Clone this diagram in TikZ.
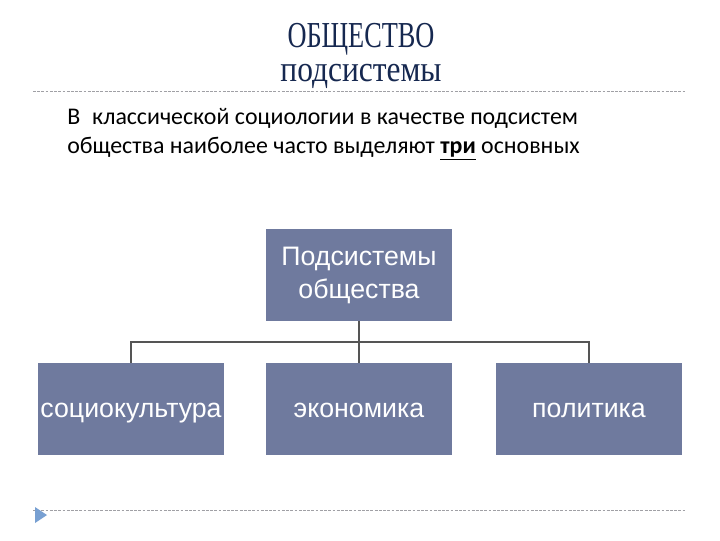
\documentclass[tikz,border=0pt]{standalone}
\usepackage{fontspec}
\usepackage{tikz}
\usetikzlibrary{positioning,calc}
\setmainfont{Liberation Sans}
\newfontfamily\titlefont[FakeStretch=0.72]{Liberation Serif}
\newfontfamily\subtitlefont[FakeStretch=0.86]{Liberation Serif}
\newfontfamily\introfont{Carlito}
\definecolor{slideNavy}  {RGB}{22,  40,  80}
\definecolor{boxSlate}   {RGB}{111, 122, 158}
\definecolor{treeGray}   {RGB}{85,  85,  85}
\definecolor{ruleGray}   {RGB}{160, 160, 165}
\definecolor{bulletBlue} {RGB}{120, 160, 210}

\tikzset{
  subbox/.style={fill=boxSlate,text=white,minimum width=4.65cm,
                 minimum height=2.3cm,align=center,inner sep=0pt,
                 font=\fontsize{19}{23.5}\selectfont},
  leafbox/.style={subbox,text height=16pt,text depth=4pt},
  headline/.style={slideNavy,inner sep=0pt},
  tree/.style={draw=treeGray,line width=1.4pt},
  slideline/.style={draw=ruleGray,line width=0.6pt,
                    dash pattern=on 2pt off 1pt}
}

\begin{document}
\begin{tikzpicture}[x=0.025cm,y=-0.025cm]

    \useasboundingbox[fill=white] (0,0) rectangle (720,540);

    % -- ЗАГОЛОВОК ---------------------------------------
    \node[headline,font=\titlefont\fontsize{26}{30}\selectfont] (title) at (361,39){
      ОБЩЕСТВО
    };
    \node[headline,font=\subtitlefont\fontsize{26}{30}\selectfont] (subtitle) at (361,76){
      подсистемы
    };

    \draw[slideline] (33,91) -- (686,91);

    % -- ТЕКСТ ---------------------------------------------
    \node[font=\introfont\fontsize{17}{21}\selectfont,align=left,
          anchor=north west,inner sep=0pt] (intro) at (67,108){
      В\enspace классической социологии в качестве подсистем\\
      общества наиболее часто выделяют \underline{\textbf{три}} основных
    };

    % -- СХЕМА ---------------------------------------------
    \node[subbox] (root) at (359,275){Подсистемы\\общества};

    \node[leafbox] (soc) at (131,409){социокультура};
    \node[leafbox] (eco) at (359,409){экономика};
    \node[leafbox] (pol) at (589,409){политика};

    \coordinate (fork) at (359,342);
    \draw[tree] (root.south) -- (eco.north);
    \draw[tree] (soc.north) |- (fork) -| (pol.north);

    % -- НИЖНЯЯ ЛИНИЯ --------------------------------------
    \draw[slideline] (33,510) -- (686,510);
    \fill[bulletBlue] (35,507) -- (47,515) -- (35,523) -- cycle;

\end{tikzpicture}
\end{document}
